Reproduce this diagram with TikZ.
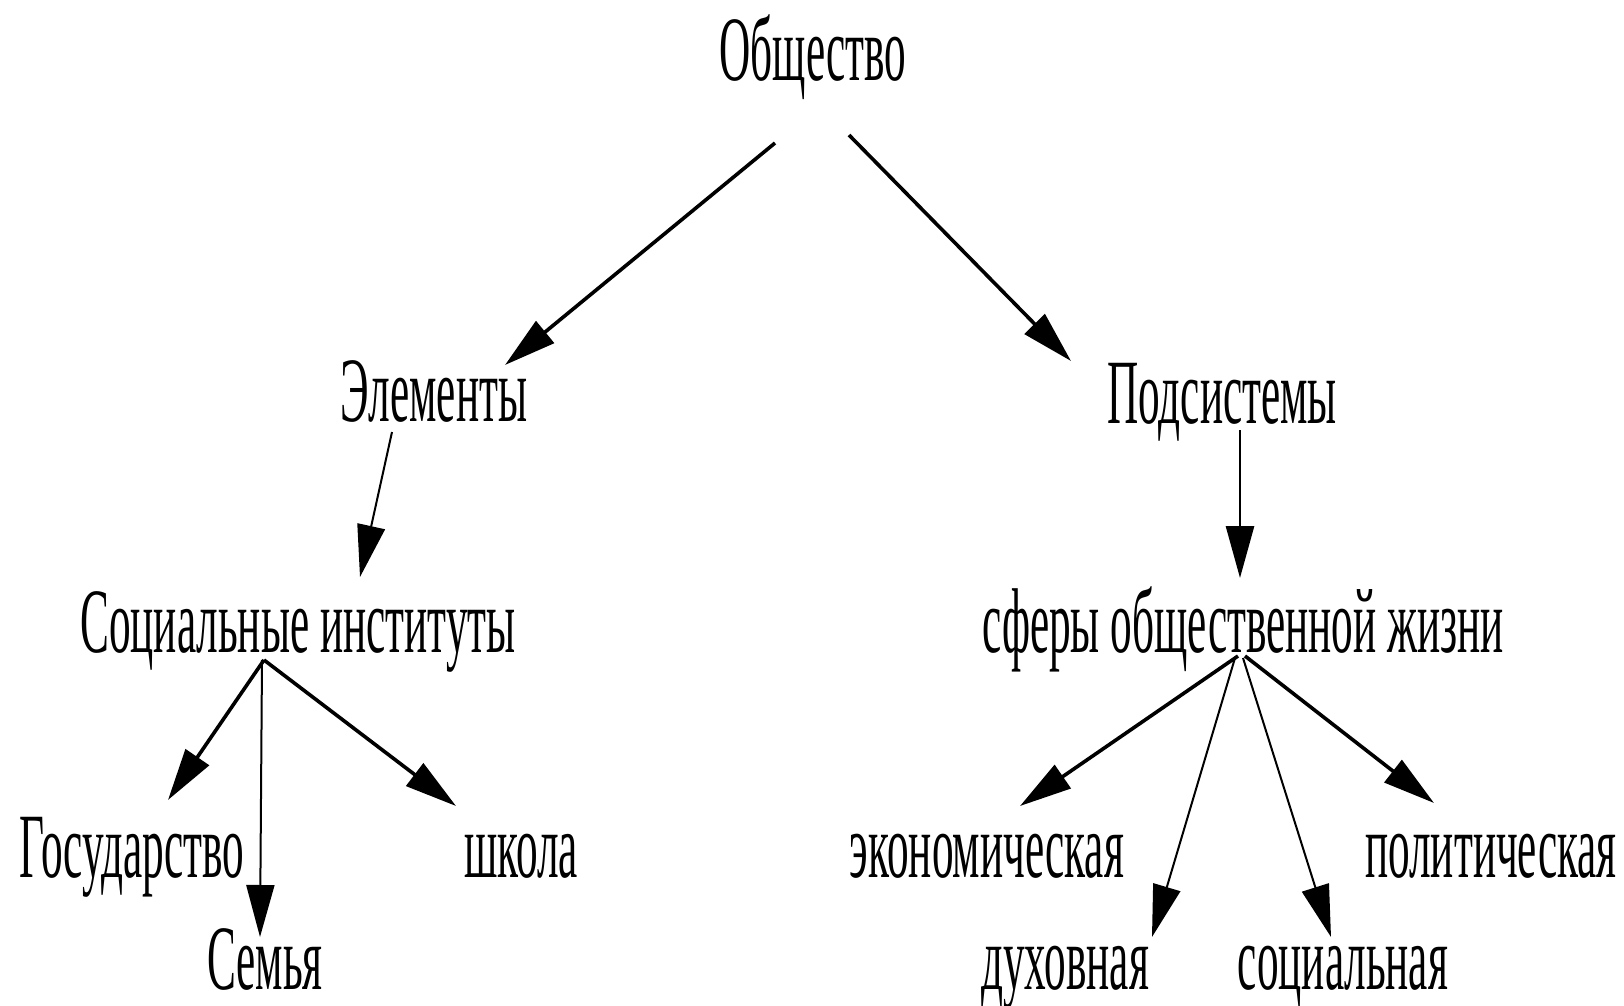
\documentclass[tikz,border=0pt]{standalone}
\usepackage{fontspec}
\usetikzlibrary{arrows.meta}
\newfontfamily\treefont[FakeStretch=0.47]{Liberation Serif}
\tikzstyle{every node}=[font=\treefont\fontsize{46pt}{50pt}\selectfont,inner sep=0pt,anchor=base]
\tikzstyle{link}=[draw,line width=1pt,-{Triangle[length=26pt,width=14pt]}]
\tikzstyle{heavy link}=[link,line width=1.8pt]

\begin{document}
\begin{tikzpicture}[x=0.5pt,y=-0.5pt]
  \useasboundingbox[fill=white] (0,0) rectangle (1624,1006);
  % levels
  \node (obsh)    at (813,81)   {Общество};
  \node (elem)    at (434,421)  {Элементы};
  \node (podsys)  at (1222,423) {Подсистемы};
  \node (socinst) at (298,652)  {Социальные институты};
  \node (sfery)   at (1243,652) {сферы общественной жизни};
  \node (gos)     at (132,877)  {Государство};
  \node (semya)   at (265,989)  {Семья};
  \node (shkola)  at (521,877)  {школа};
  \node (econ)    at (987,877)  {экономическая};
  \node (polit)   at (1491,877) {политическая};
  \node (duh)     at (1065,989) {духовная};
  \node (socl)    at (1343,989) {социальная};

  \path[heavy link] ([shift={(-38,62)}]obsh.base) -- ([shift={(71,-56)}]elem.base);
  \path[heavy link] ([shift={(36,54)}]obsh.base) -- ([shift={(-151,-62)}]podsys.base);
  \path[link] ([shift={(-42,11)}]elem.base) -- ([shift={(62,-75)}]socinst.base);
  \path[link,line width=1.4pt] ([shift={(18,7)}]podsys.base) -- ([shift={(-3,-74)}]sfery.base);

  \path[heavy link] ([shift={(-34,8)}]socinst.base) -- ([shift={(36,-77)}]gos.base);
  \path[link] ([shift={(-36,8)}]socinst.base) -- ([shift={(-5,-52)}]semya.base);
  \path[heavy link] ([shift={(-34,8)}]socinst.base) -- ([shift={(-65,-71)}]shkola.base);

  \path[heavy link] ([shift={(-5,4)}]sfery.base) -- ([shift={(33,-71)}]econ.base);
  \path[link] ([shift={(-8,6)}]sfery.base) -- ([shift={(87,-52)}]duh.base);
  \path[link] ([shift={(0,6)}]sfery.base) -- ([shift={(-12,-52)}]socl.base);
  \path[heavy link] ([shift={(2,4)}]sfery.base) -- ([shift={(-57,-74)}]polit.base);
\end{tikzpicture}
\end{document}
